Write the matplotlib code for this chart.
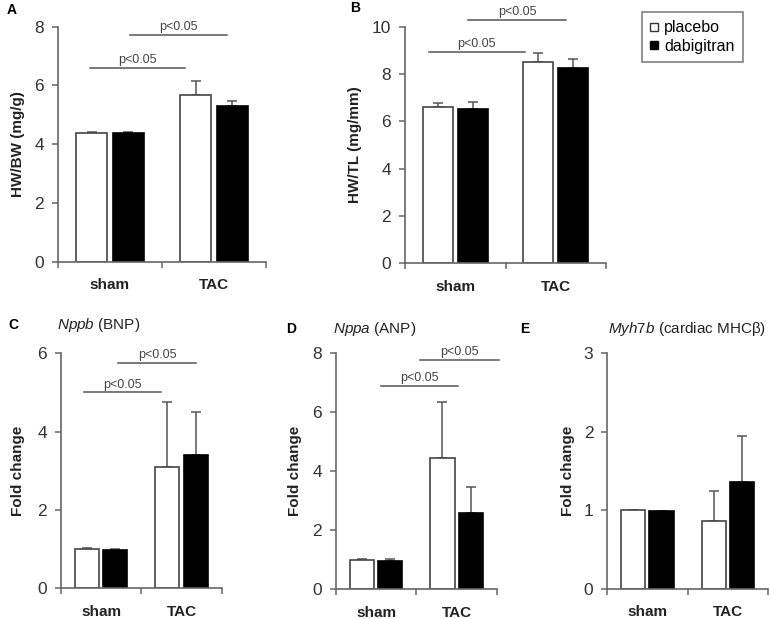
import matplotlib
matplotlib.use("Agg")
import matplotlib.pyplot as plt
from matplotlib.lines import Line2D
import numpy as np

plt.rcParams["font.family"] = ["Liberation Sans", "DejaVu Sans"]
plt.rcParams["mathtext.fontset"] = "custom"
plt.rcParams["mathtext.it"] = "Liberation Sans:italic"
plt.rcParams["mathtext.rm"] = "Liberation Sans"

groups = ["sham", "TAC"]

# panel A: HW/BW
hwbw_placebo = [4.39, 5.67]
hwbw_placebo_err = [0.04, 0.47]
hwbw_dabi = [4.37, 5.30]
hwbw_dabi_err = [0.05, 0.16]

# panel B: HW/TL
hwtl_placebo = [6.59, 8.52]
hwtl_placebo_err = [0.17, 0.35]
hwtl_dabi = [6.51, 8.27]
hwtl_dabi_err = [0.32, 0.35]

# panel C: Nppb
nppb_placebo = [1.01, 3.11]
nppb_placebo_err = [0.01, 1.64]
nppb_dabi = [0.99, 3.41]
nppb_dabi_err = [0.02, 1.09]

# panel D: Nppa
nppa_placebo = [0.99, 4.46]
nppa_placebo_err = [0.02, 1.90]
nppa_dabi = [0.97, 2.60]
nppa_dabi_err = [0.04, 0.86]

# panel E: Myh7b
myh_placebo = [1.00, 0.86]
myh_placebo_err = [0.005, 0.38]
myh_dabi = [0.99, 1.36]
myh_dabi_err = [0.005, 0.59]

# significance lines: (x start, x end, y) in data units
sig_a = [(-0.19, 0.72, 6.6), (0.19, 1.125, 7.71)]
sig_b = [(-0.26, 0.69, 8.94), (0.13, 1.10, 10.28)]
sig_c = [(-0.21, 0.75, 5.0), (0.21, 1.18, 5.75)]
sig_d = [(0.06, 1.02, 6.9), (0.55, 1.53, 7.77)]

GRAY = "#555555"
AXC = "#666666"

fig = plt.figure(figsize=(7.71, 6.19), dpi=100)


def panel(rect, placebo, p_err, dabi, d_err, ymax, ystep, ylabel, labx, sig):
    ax = fig.add_axes(rect)
    x = np.arange(len(groups))
    w = 0.30
    off = 0.175
    zeros = [0] * len(groups)
    ax.bar(x - off, placebo, w, color="white", edgecolor="#444444", lw=1.2, zorder=2)
    ax.bar(x + off, dabi, w, color="black", edgecolor="black", lw=1.2, zorder=2)
    ax.errorbar(x - off, placebo, yerr=[zeros, p_err], fmt="none", ecolor=GRAY,
                elinewidth=1.1, capsize=3.5, capthick=1.1, zorder=1)
    ax.errorbar(x + off, dabi, yerr=[zeros, d_err], fmt="none", ecolor=GRAY,
                elinewidth=1.1, capsize=3.5, capthick=1.1, zorder=1)
    ax.set_xlim(-0.5, 1.5)
    ax.set_ylim(0, ymax)
    ax.set_yticks(np.arange(0, ymax + 0.01, ystep))
    ax.set_yticklabels([f"{v:g}" for v in np.arange(0, ymax + 0.01, ystep)])
    ax.set_xticks([-0.5, 0.5, 1.5])
    ax.set_xticklabels([])
    ax.set_xticks(x, minor=True)
    ax.set_xticklabels(groups, minor=True, fontweight="bold", fontsize=11, color="#222222")
    ax.tick_params(axis="x", which="minor", length=0, pad=12)
    ax.tick_params(axis="x", which="major", length=4, width=1.1, color=AXC, direction="out")
    ax.tick_params(axis="y", length=4, width=1.1, color=AXC, labelsize=12.5,
                   labelcolor="#333333", pad=6)
    for s in ["top", "right"]:
        ax.spines[s].set_visible(False)
    for s in ["left", "bottom"]:
        ax.spines[s].set_color(AXC)
        ax.spines[s].set_linewidth(1.2)
    ax.set_ylabel(ylabel, fontweight="bold", fontsize=11, color="#222222")
    ax.yaxis.set_label_coords(labx, 0.5)
    for x0, x1, y in sig:
        ax.plot([x0, x1], [y, y], color=GRAY, lw=1.1, clip_on=False)
        ax.text((x0 + x1) / 2, y + ymax * 0.008, "p<0.05", ha="center", va="bottom",
                fontsize=9, color="#444444", clip_on=False)
    return ax


panel([0.0752, 0.5772, 0.2698, 0.3796], hwbw_placebo, hwbw_placebo_err, hwbw_dabi,
      hwbw_dabi_err, 8, 2, "HW/BW (mg/g)", -0.159, sig_a)
panel([0.5253, 0.5746, 0.2607, 0.3822], hwtl_placebo, hwtl_placebo_err, hwtl_dabi,
      hwtl_dabi_err, 10, 2, "HW/TL (mg/mm)", -0.215, sig_b)
panel([0.0791, 0.0496, 0.2084, 0.3796], nppb_placebo, nppb_placebo_err, nppb_dabi,
      nppb_dabi_err, 6, 2, "Fold change", -0.224, sig_c)
panel([0.4358, 0.0480, 0.2084, 0.3813], nppa_placebo, nppa_placebo_err, nppa_dabi,
      nppa_dabi_err, 8, 2, "Fold change", -0.213, sig_d)
panel([0.7877, 0.0490, 0.2084, 0.3803], myh_placebo, myh_placebo_err, myh_dabi,
      myh_dabi_err, 3, 1, "Fold change", -0.201, [])

# panel letters and gene titles (pixel positions -> figure fraction)
W, H = 771, 619
letters = [("A", 12, 10), ("B", 355, 8), ("C", 13, 325), ("D", 291, 329), ("E", 525, 329)]
for t, px, py in letters:
    fig.text(px / W, 1 - py / H, t, fontweight="bold", fontsize=10, ha="center", va="center")

titles = [(r"$\it{Nppb}$ (BNP)", 57, 325), (r"$\it{Nppa}$ (ANP)", 333, 329),
          (r"$\it{Myh7b}$ (cardiac MHCβ)", 608, 329)]
for t, px, py in titles:
    fig.text(px / W, 1 - py / H, t, fontsize=11, ha="left", va="center", color="#222222")

handles = [Line2D([], [], marker="s", ls="none", markersize=6, markerfacecolor="white",
                  markeredgecolor="#333333", markeredgewidth=1.0),
           Line2D([], [], marker="s", ls="none", markersize=6, markerfacecolor="black",
                  markeredgecolor="black")]
leg = fig.legend(handles, ["placebo", "dabigitran"], loc="upper left",
                 bbox_to_anchor=(641.7 / W, 1 - 11.7 / H), fontsize=11.5, frameon=True,
                 fancybox=False, edgecolor=GRAY, handlelength=0.45, handletextpad=0.4,
                 borderpad=0.55, labelspacing=0.2, borderaxespad=0)
leg.get_frame().set_linewidth(1.1)

fig.savefig("out.png", dpi=100)
